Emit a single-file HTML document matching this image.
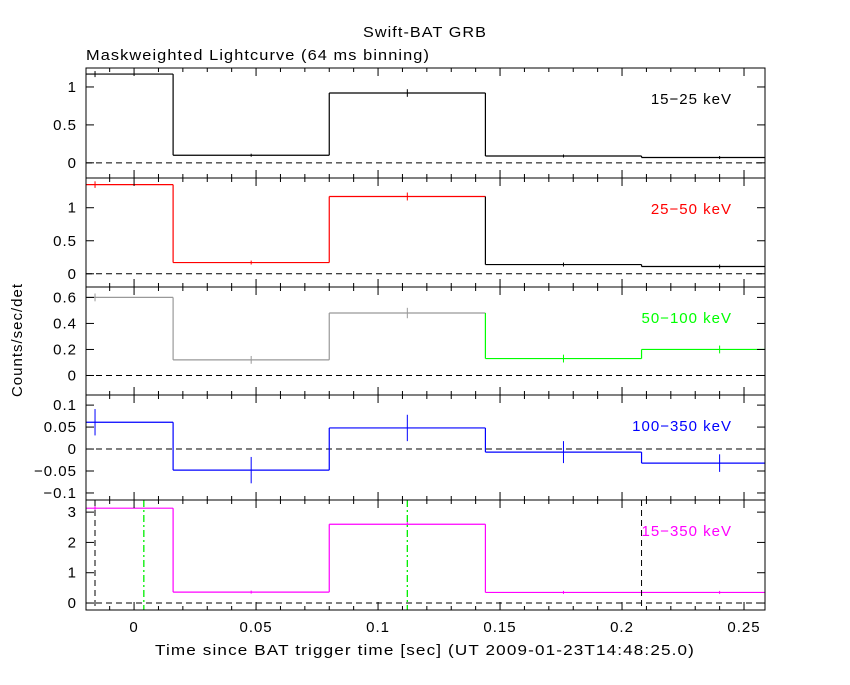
<!DOCTYPE html>
<html><head><meta charset="utf-8"><style>
body{margin:0;background:#fff;}
svg text{font-family:"Liberation Sans",sans-serif;font-size:15px;letter-spacing:1px;}
</style></head><body>
<svg id="chart" width="850" height="680" xmlns="http://www.w3.org/2000/svg">
<text x="363" y="37" textLength="124" lengthAdjust="spacingAndGlyphs">Swift-BAT GRB</text>
<text x="86" y="60" textLength="344" lengthAdjust="spacingAndGlyphs">Maskweighted Lightcurve (64 ms binning)</text>
<text x="155" y="655" textLength="540" lengthAdjust="spacingAndGlyphs">Time since BAT trigger time [sec] (UT 2009-01-23T14:48:25.0)</text>
<text transform="translate(22,340) rotate(-90)" text-anchor="middle">Counts/sec/det</text>
</svg>
<script>
const binEdges=[-0.048,0.016,0.080,0.144,0.208,0.272];
const binCenters=[-0.016,0.048,0.112,0.176,0.240];
const xTicks=[0,0.05,0.1,0.15,0.2,0.25];
const xTickLabels=["0","0.05","0.1","0.15","0.2","0.25"];
const bandLabels=["15−25 keV","25−50 keV","50−100 keV","100−350 keV","15−350 keV"];
const s1=[1.17,0.10,0.92,0.09,0.07];
const s2=[1.35,0.17,1.17,0.14,0.11];
const s3=[0.60,0.12,0.48,0.13,0.20];
const s4=[0.061,-0.048,0.048,-0.007,-0.032];
const s5=[3.13,0.36,2.60,0.35,0.35];
const e1=[0.04,0.02,0.05,0.02,0.02];
const e2=[0.05,0.03,0.06,0.03,0.03];
const e3=[0.03,0.03,0.04,0.03,0.03];
const e4=[0.03,0.03,0.03,0.025,0.02];
const e5=[0.08,0.05,0.08,0.05,0.05];
const yTicks1=[0,0.5,1], yTicks2=[0,0.5,1], yTicks3=[0,0.2,0.4,0.6], yTicks4=[-0.1,-0.05,0,0.05,0.1], yTicks5=[0,1,2,3];
const yLabels1=["0","0.5","1"], yLabels2=["0","0.5","1"], yLabels3=["0","0.2","0.4","0.6"], yLabels4=["−0.1","−0.05","0","0.05","0.1"], yLabels5=["0","1","2","3"];
const markerLines=[-0.045,0.208];
const peakLines=[0.004,0.112];

const NS="http://www.w3.org/2000/svg";
const svg=document.getElementById('chart');
const X0=86,X1=765,xmin=-0.0197,xmax=0.2586;
const xs=v=>X0+(v-xmin)/(xmax-xmin)*(X1-X0);
function mk(t,a,p){const e=document.createElementNS(NS,t);for(const k in a)e.setAttribute(k,a[k]);(p||svg).appendChild(e);return e;}
const panels=[
 {top:68,bot:178,ymin:-0.2,ymax:1.25,d:s1,e:e1,t:yTicks1,l:yLabels1,c:["#000","#000","#000","#000","#000"],lc:"#000"},
 {top:178,bot:287,ymin:-0.2,ymax:1.45,d:s2,e:e2,t:yTicks2,l:yLabels2,c:["red","red","red","#000","#000"],lc:"red"},
 {top:287,bot:395,ymin:-0.15,ymax:0.68,d:s3,e:e3,t:yTicks3,l:yLabels3,c:["#999","#999","#999","#0f0","#0f0"],lc:"#0f0"},
 {top:395,bot:500,ymin:-0.116,ymax:0.123,d:s4,e:e4,t:yTicks4,l:yLabels4,c:["blue","blue","blue","blue","blue"],lc:"blue"},
 {top:500,bot:610,ymin:-0.23,ymax:3.4,d:s5,e:e5,t:yTicks5,l:yLabels5,c:["magenta","magenta","magenta","magenta","magenta"],lc:"magenta"}
];
panels.forEach((p,pi)=>{
 const ys=v=>p.bot-(v-p.ymin)/(p.ymax-p.ymin)*(p.bot-p.top);
 const g=mk('g',{});
 
 
 const z=mk('line',{x1:X0,x2:X1,y1:ys(0),y2:ys(0),stroke:'#000','stroke-dasharray':'6,4','stroke-width':1},g);
 
 
 p.d.forEach((v,i)=>{
  const xa=Math.max(X0,xs(binEdges[i])),xb=Math.min(X1,xs(binEdges[i+1]));
  const h=mk('line',{x1:xa,x2:xb,y1:ys(v),y2:ys(v),stroke:p.c[i],'stroke-width':1.2},g);
  
  
  if(i<p.d.length-1){
   const vv=mk('line',{x1:xb,x2:xb,y1:ys(v),y2:ys(p.d[i+1]),stroke:p.c[i+1],'stroke-width':1.2},g);
   
   
  }
  const cx=xs(binCenters[i]);
  if(cx>X0){
   const eb=mk('line',{x1:cx,x2:cx,y1:ys(v-p.e[i]),y2:ys(v+p.e[i]),stroke:p.c[i],'stroke-width':1},g);
   
   
  }
 });
 if(pi===4){
  markerLines.forEach(m=>{const x=Math.max(X0+9,xs(m));const l=mk('line',{x1:x,x2:x,y1:p.top,y2:p.bot,stroke:'#000','stroke-dasharray':'6,4'},g);
   
   });
  peakLines.forEach(m=>{const l=mk('line',{x1:xs(m),x2:xs(m),y1:p.top,y2:p.bot,stroke:'#0e0','stroke-width':1.3,'stroke-dasharray':'7,3,2,3'},g);
   
   });
 }
 const f=mk('rect',{x:X0,y:p.top,width:X1-X0,height:p.bot-p.top,fill:'none',stroke:'#000','stroke-width':1},g);
 
 
 p.t.forEach((t,i)=>{const y=ys(t);
  mk('line',{x1:X0,x2:X0+8,y1:y,y2:y,stroke:'#000'},g);mk('line',{x1:X1,x2:X1-8,y1:y,y2:y,stroke:'#000'},g);
  const tx=mk('text',{x:X0-9,y:y+5,'text-anchor':'end'},g);tx.textContent=p.l[i];
  
  });
 for(let v=-0.01;v<=0.255;v+=0.01){const x=xs(v);const big=Math.abs(v*20-Math.round(v*20))<1e-6;const L=big?8:4;
  mk('line',{x1:x,x2:x,y1:p.bot,y2:p.bot-L,stroke:'#000'},g);mk('line',{x1:x,x2:x,y1:p.top,y2:p.top+L,stroke:'#000'},g);}
 const lb=mk('text',{x:732,y:p.top+36,'text-anchor':'end',fill:p.lc},g);lb.textContent=bandLabels[pi];
 
 
});
xTicks.forEach((t,i)=>{const tx=mk('text',{x:xs(t),y:632,'text-anchor':'middle'});tx.textContent=xTickLabels[i];
 
 });
</script>
</body></html>
